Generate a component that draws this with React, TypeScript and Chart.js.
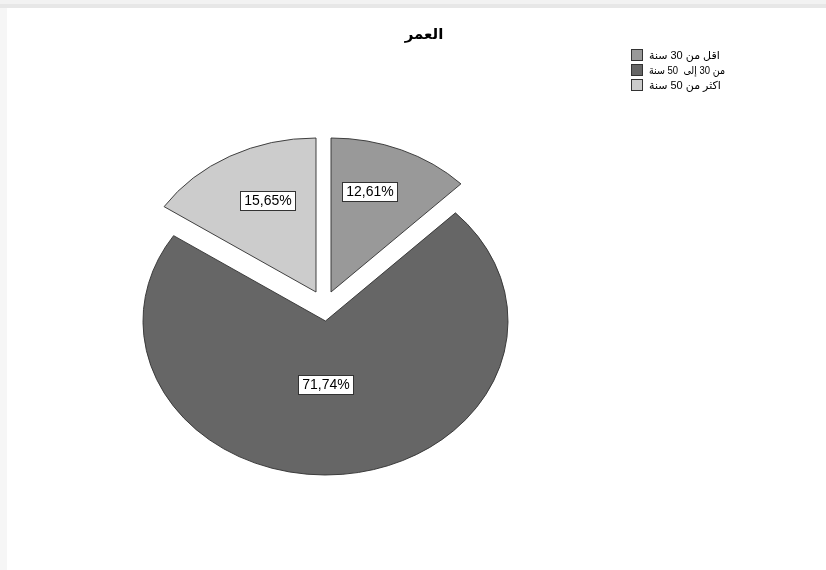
import React, { useEffect, useRef } from 'react';
import { Chart, registerables } from 'chart.js';

Chart.register(...registerables);

// ---- data ----
const chartTitle = 'العمر';
const categories = ['اقل من 30 سنة', 'من 30 إلى  50 سنة', 'اكثر من 50 سنة'];
const percentages = [12.61, 71.74, 15.65];
const sliceColors = ['#999999', '#666666', '#cccccc'];

// ---- style / layout ----
const W = 826;
const H = 570;
const CX = 325.5;
const CY = 321;
const RX = 182.5;
const RY = 154;
const K = RY / RX;
const explodeX = [5.5, 0, -9.5];
const explodeY = [-29, 0, -29];
const labelFrac = [0.687, 0.412, 0.653];
const labelAngleShiftDeg = [-4.6, 5.1, 4.3];
const FONT = "'Liberation Sans', Arial, 'DejaVu Sans', sans-serif";
const OUTLINE = '#333333';

const fmt = (v: number) => v.toFixed(2).replace('.', ',') + '%';

const piePlugin = {
  id: 'ellipticPie',
  beforeDraw(chart: any) {
    const ctx = chart.ctx;
    ctx.save();
    ctx.fillStyle = '#ffffff';
    ctx.fillRect(0, 0, W, H);
    ctx.fillStyle = '#f2f2f2';
    ctx.fillRect(0, 0, W, 4);
    ctx.fillStyle = '#e7e7e7';
    ctx.fillRect(0, 4, W, 4);
    ctx.fillStyle = '#f6f6f6';
    ctx.fillRect(0, 8, 7, H - 8);
    ctx.restore();
  },
  beforeDatasetsDraw(chart: any) {
    const ctx = chart.ctx;
    const meta = chart.getDatasetMeta(0);
    meta.data.forEach((arc: any, i: number) => {
      const { x, y } = arc.getProps(['x', 'y'], true);
      ctx.save();
      ctx.translate(x + explodeX[i], y + explodeY[i]);
      ctx.scale(1, K);
      ctx.translate(-x, -y);
      arc.draw(ctx);
      ctx.restore();
    });
    return false;
  },
  afterDraw(chart: any) {
    const ctx = chart.ctx;
    const meta = chart.getDatasetMeta(0);
    const values = chart.data.datasets[0].data as number[];
    ctx.save();
    // value labels
    ctx.font = `14px ${FONT}`;
    ctx.textAlign = 'center';
    ctx.textBaseline = 'middle';
    meta.data.forEach((arc: any, i: number) => {
      const p = arc.getProps(['x', 'y', 'startAngle', 'endAngle', 'outerRadius'], true);
      const mid = (p.startAngle + p.endAngle) / 2 + (labelAngleShiftDeg[i] * Math.PI) / 180;
      const r = p.outerRadius * labelFrac[i];
      const px = p.x + Math.cos(mid) * r + explodeX[i];
      const py = p.y + Math.sin(mid) * r * K + explodeY[i];
      const txt = fmt(values[i]);
      const tw = ctx.measureText(txt).width;
      const bw = Math.round(tw + 8);
      const bh = 19;
      const bx = Math.round(px - bw / 2) + 0.5;
      const by = Math.round(py - bh / 2) + 0.5;
      ctx.fillStyle = '#ffffff';
      ctx.fillRect(bx, by, bw, bh);
      ctx.strokeStyle = OUTLINE;
      ctx.lineWidth = 1;
      ctx.strokeRect(bx, by, bw, bh);
      ctx.fillStyle = '#000000';
      ctx.fillText(txt, bx + bw / 2, by + bh / 2 + 0.5);
    });

    // title
    ctx.font = `bold 15px ${FONT}`;
    ctx.fillStyle = '#000000';
    ctx.textAlign = 'center';
    ctx.direction = 'rtl';
    ctx.fillText(chartTitle, 424, 35);

    // legend
    ctx.font = `11px ${FONT}`;
    ctx.textAlign = 'left';
    (chart.data.labels as string[]).forEach((lab: string, i: number) => {
      const y = 49 + i * 15;
      ctx.fillStyle = sliceColors[i];
      ctx.fillRect(631.5, y + 0.5, 11, 11);
      ctx.strokeStyle = OUTLINE;
      ctx.lineWidth = 1;
      ctx.strokeRect(631.5, y + 0.5, 11, 11);
      ctx.fillStyle = '#000000';
      ctx.fillText(lab, 649, y + 6.5, 76);
    });
    ctx.restore();
  },
};

export default function App() {
  const ref = useRef<HTMLCanvasElement | null>(null);
  useEffect(() => {
    if (!ref.current) return;
    const chart = new Chart(ref.current, {
      type: 'pie',
      data: {
        labels: categories,
        datasets: [
          {
            data: percentages,
            backgroundColor: sliceColors,
            borderColor: OUTLINE,
            borderWidth: 1,
            borderJoinStyle: 'miter',
            radius: RX,
          } as any,
        ],
      },
      options: {
        responsive: false,
        animation: false,
        events: [],
        layout: {
          padding: { left: 0, right: W - 2 * CX, top: CY - 240, bottom: H - (CY + 240) },
        },
        plugins: {
          legend: { display: false },
          title: { display: false },
          tooltip: { enabled: false },
        },
      },
      plugins: [piePlugin],
    });
    return () => chart.destroy();
  }, []);
  return (
    <div style={{ position: 'fixed', left: 0, top: 0, width: W, height: H }}>
      <canvas ref={ref} width={W} height={H} style={{ display: 'block', width: W, height: H }} />
    </div>
  );
}
